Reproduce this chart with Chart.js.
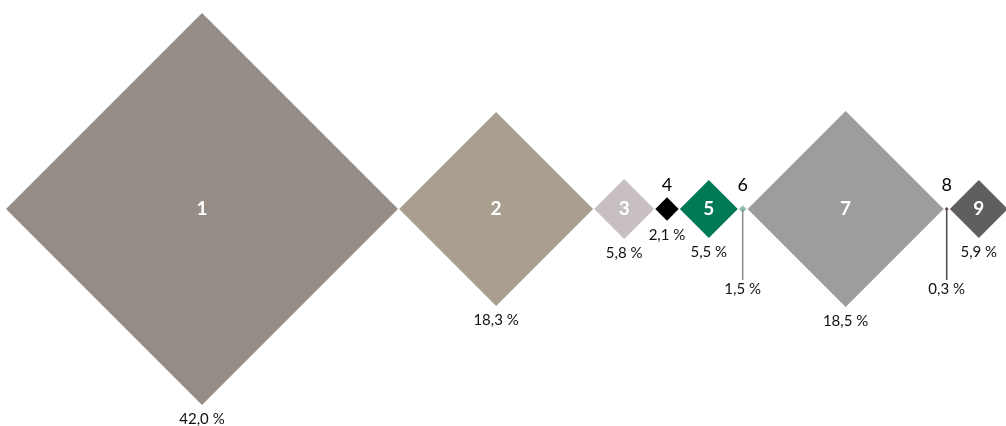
<!DOCTYPE html>
<html>
<head>
<meta charset="utf-8">
<script src="https://cdn.jsdelivr.net/npm/chart.js@4"></script>
<style>
    html, body { margin: 0; padding: 0; background: #fff; }
</style>
</head>
<body>
<canvas id="diamondChart" width="1006" height="426"></canvas>
<script>
// data
const categories = ['1', '2', '3', '4', '5', '6', '7', '8', '9'];
const shares = [42.0, 18.3, 5.8, 2.1, 5.5, 1.5, 18.5, 0.3, 5.9];
const shareLabels = shares.map(v => v.toFixed(1).replace('.', ',') + ' %');

// styles
const diamondColors = ['#968d86', '#a99f8e', '#c8bfc2', '#000000', '#007a56', '#8fc4a8', '#9d9d9d', '#6e3f58', '#5f5f5f'];
const diamondRadius = [196, 97, 30, 11.7, 29, 3.8, 98, 2, 29];
const leaderColors = ['', '', '', '', '', '#8c8c8c', '', '#4a4a4a', ''];

// diamonds sit edge to edge, left to right
let edge = 6;
const centers = diamondRadius.map(r => {
    const c = edge + r;
    edge = c + r + 1.1;
    return c;
});

const diamondLabels = {
    id: 'diamondLabels',
    afterDatasetsDraw(chart) {
        const ctx = chart.ctx;
        const meta = chart.getDatasetMeta(0);
        ctx.save();
        ctx.textAlign = 'center';
        meta.data.forEach((pt, i) => {
            const r = diamondRadius[i];

            // number
            if (r > 20) {
                ctx.fillStyle = '#ffffff';
                ctx.font = 'bold 19px Lato';
                ctx.textBaseline = 'middle';
                ctx.fillText(categories[i], pt.x, pt.y);
            } else {
                ctx.fillStyle = '#000000';
                ctx.font = '18px Lato';
                ctx.textBaseline = 'alphabetic';
                ctx.fillText(categories[i], pt.x, pt.y - 18);
            }

            // share
            ctx.fillStyle = '#111111';
            ctx.font = '15px Lato';
            ctx.textBaseline = 'middle';
            if (r > 8) {
                ctx.fillText(shareLabels[i], pt.x, pt.y + r + 14);
            } else {
                ctx.strokeStyle = leaderColors[i];
                ctx.lineWidth = 1.5;
                ctx.beginPath();
                ctx.moveTo(pt.x, pt.y);
                ctx.lineTo(pt.x, pt.y + 71);
                ctx.stroke();
                ctx.fillText(shareLabels[i], pt.x, pt.y + 80);
            }
        });
        ctx.restore();
    }
};

new Chart(document.getElementById('diamondChart').getContext('2d'), {
    type: 'scatter',
    data: {
        datasets: [{
            data: centers.map(x => ({ x: x, y: 0 })),
            pointStyle: 'rectRot',
            pointRadius: diamondRadius,
            pointHoverRadius: diamondRadius,
            pointBackgroundColor: diamondColors,
            pointBorderWidth: 0,
            pointHoverBorderWidth: 0,
            clip: false,
        }],
    },
    options: {
        responsive: false,
        animation: false,
        layout: { padding: 0, autoPadding: false },
        scales: {
            x: { type: 'linear', min: 0, max: 1006, display: false },
            y: { type: 'linear', min: -217, max: 209, display: false },
        },
        plugins: {
            legend: { display: false },
            tooltip: { enabled: false },
        },
    },
    plugins: [diamondLabels],
});
</script>
</body>
</html>
